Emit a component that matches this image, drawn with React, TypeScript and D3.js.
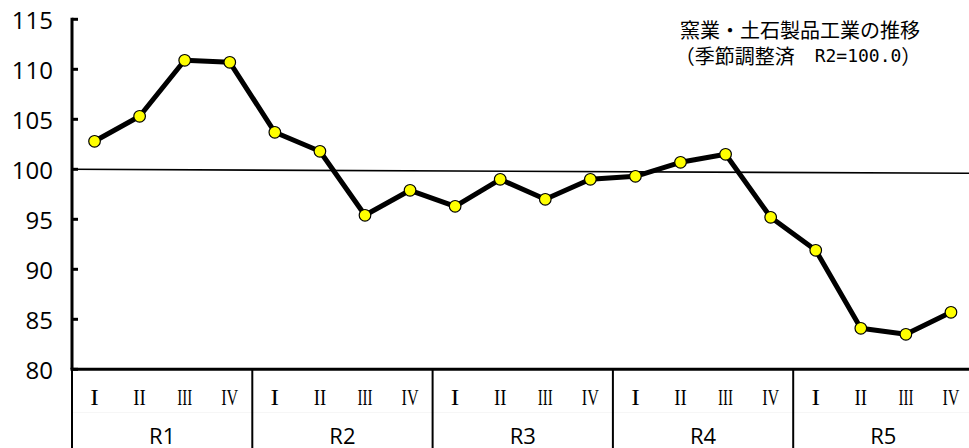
import React from "react";
import * as d3 from "d3";

const years = ["R1", "R2", "R3", "R4", "R5"];
const quarters = ["I", "II", "III", "IV"];
const values = [
  102.8, 105.3, 110.9, 110.7,
  103.7, 101.8, 95.4, 97.9,
  96.3, 99.0, 97.0, 99.0,
  99.3, 100.7, 101.5, 95.2,
  91.9, 84.1, 83.5, 85.7,
];
const yTicks = [80, 85, 90, 95, 100, 105, 110, 115];
const refStart = 100;
const refEnd = 99.6;
const titleLine1 = "窯業・土石製品工業の推移";
const titleLine2a = "（季節調整済　";
const titleLine2b = "R2=100.0";
const titleLine2c = "）";

const W = 969;
const H = 448;

const quarterWidths = [8.5, 12.5, 15, 17];

export default function App() {
  const left = 72;
  const right = 973.5;
  const top = 19.3;
  const bottom = 369.3;
  const idx = values.map((_, i) => i);
  const x = d3.scaleBand<number>().domain(idx).range([left, right]);
  const y = d3.scaleLinear().domain([80, 115]).range([bottom, top]);
  const cx = (i: number) => (x(i) as number) + x.bandwidth() / 2;
  const line = d3
    .line<number>()
    .x((_, i) => cx(i))
    .y((d) => y(d));
  const yearW = x.bandwidth() * 4;
  const sans = "'Open Sans', sans-serif";
  const cjk = "'Noto Sans CJK JP', sans-serif";
  const serif = "'Liberation Serif', 'DejaVu Serif', serif";

  return (
    <svg
      width={W}
      height={H}
      style={{ position: "absolute", left: 0, top: 0, background: "#fff" }}
    >
      <rect x={0} y={0} width={W} height={H} fill="#fff" />
      {/* reference line */}
      <line
        x1={left}
        x2={right}
        y1={y(refStart)}
        y2={y(refEnd)}
        stroke="#000"
        strokeWidth={1.6}
      />
      {/* y axis */}
      <line x1={left} x2={left} y1={top - 1.5} y2={bottom} stroke="#000" strokeWidth={3} />
      {yTicks.map((t) => (
        <g key={t}>
          <line x1={left} x2={left + 6} y1={y(t)} y2={y(t)} stroke="#000" strokeWidth={3} />
          <text
            x={53}
            y={y(t)}
            textAnchor="end"
            dominantBaseline="central"
            fontFamily={sans}
            fontSize={24}
            fill="#000"
          >
            {t}
          </text>
        </g>
      ))}
      {/* x axis */}
      <line x1={left - 1.5} x2={W} y1={bottom} y2={bottom} stroke="#000" strokeWidth={3} />
      <line x1={left} x2={W} y1={412.5} y2={412.5} stroke="#f6f6f6" strokeWidth={1} />
      {years.map((yr, k) => (
        <line
          key={"sep" + k}
          x1={left + k * yearW}
          x2={left + k * yearW}
          y1={bottom}
          y2={H}
          stroke="#000"
          strokeWidth={2}
        />
      ))}
      {values.map((_, i) => (
        <text
          key={"q" + i}
          x={cx(i) - quarterWidths[i % 4] / 2}
          y={404.5}
          textLength={quarterWidths[i % 4]}
          lengthAdjust="spacingAndGlyphs"
          fontFamily={serif}
          fontSize={24}
          fill="#000"
        >
          {quarters[i % 4]}
        </text>
      ))}
      {years.map((yr, k) => (
        <text
          key={"y" + k}
          x={left + k * yearW + yearW / 2}
          y={434.5}
          textAnchor="middle"
          dominantBaseline="central"
          fontFamily={sans}
          fontSize={22}
          fill="#000"
        >
          {yr}
        </text>
      ))}
      {/* data line */}
      <path
        d={line(values) || ""}
        fill="none"
        stroke="#000"
        strokeWidth={5}
        strokeLinejoin="round"
      />
      {values.map((v, i) => (
        <circle
          key={"c" + i}
          cx={cx(i)}
          cy={y(v)}
          r={5.8}
          fill="#ffff00"
          stroke="#000"
          strokeWidth={1.2}
        />
      ))}
      {/* title */}
      <text
        x={800}
        y={29}
        textAnchor="middle"
        dominantBaseline="central"
        fontFamily={cjk}
        fontSize={20}
        fill="#000"
      >
        {titleLine1}
      </text>
      <text
        x={798}
        y={55}
        textAnchor="middle"
        dominantBaseline="central"
        fontFamily={cjk}
        fontSize={20}
        fill="#000"
      >
        {titleLine2a}
        <tspan fontFamily="'DejaVu Sans Mono', monospace" fontSize={18}>
          {titleLine2b}
        </tspan>
        {titleLine2c}
      </text>
    </svg>
  );
}
